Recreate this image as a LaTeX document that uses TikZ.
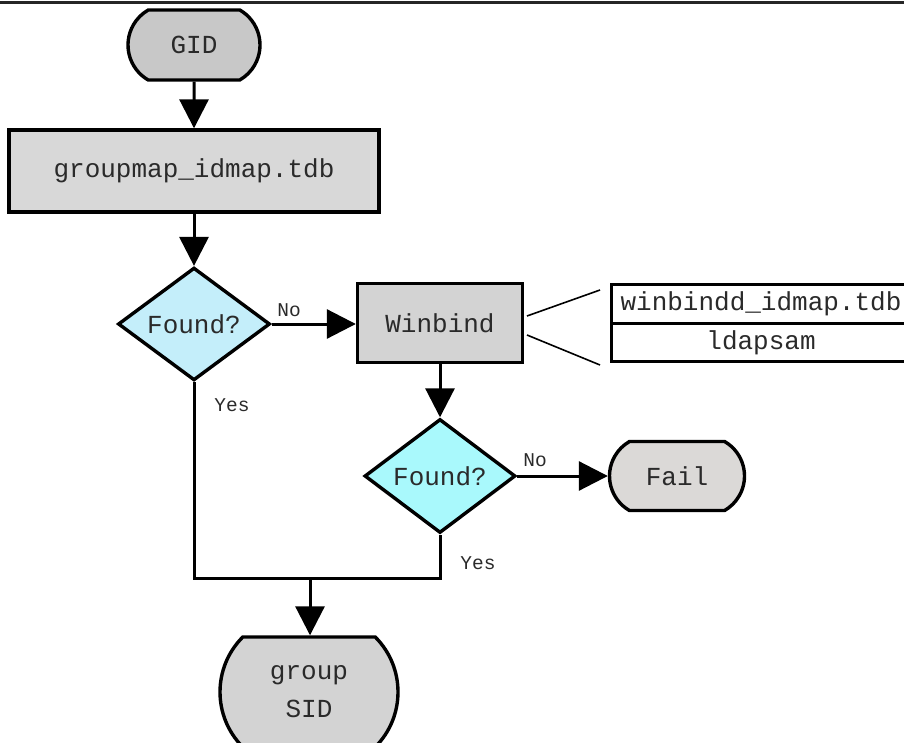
\documentclass[tikz,border=0pt]{standalone}
\usepackage{fontspec}
\setmonofont{Liberation Mono}
\usetikzlibrary{shapes.geometric,shapes.misc,arrows.meta}
\definecolor{gidfill}{HTML}{C8C8C8}
\definecolor{boxfill}{HTML}{D8D8D8}
\definecolor{winfill}{HTML}{D3D3D3}
\definecolor{dfillA}{HTML}{C4EEFA}
\definecolor{dfillB}{HTML}{A9F9FC}
\definecolor{failfill}{HTML}{DBD9D7}
\definecolor{txt}{HTML}{2A2A2A}
\tikzset{
  x=1pt, y=-1pt,
  base/.style={draw=black, line width=3.4pt, text=txt, font=\ttfamily\fontsize{26}{38}\selectfont, inner sep=0pt},
  term/.style={base, rounded rectangle, rounded rectangle arc length=120},
  procbox/.style={base, rectangle},
  decision/.style={base, diamond},
  conn/.style={line width=3pt, -{Triangle[width=29pt,length=29pt]}},
  plain/.style={line width=3pt},
  lbl/.style={font=\ttfamily\fontsize{19.5}{20}\selectfont, text=txt, inner sep=0pt},
  cell/.style={draw=black, line width=3pt, rectangle, minimum width=300pt, minimum height=38.5pt, inner sep=0pt, text=txt, font=\ttfamily\fontsize{26}{30}\selectfont},
}
\begin{document}
\begin{tikzpicture}
\useasboundingbox (0,0) rectangle (904,743);
\draw[line width=3pt, draw=black!85] (0,2.5) -- (904,2.5);

\node[term, fill=gidfill, minimum width=132pt, minimum height=70pt] (gid) at (194,45) {GID};
\node[procbox, fill=boxfill, minimum width=370pt, minimum height=82pt] (gm) at (194,171) {groupmap\_idmap.tdb};
\node[decision, fill=dfillA, minimum width=152pt, minimum height=112pt] (d1) at (194,324) {Found?};
\node[procbox, fill=winfill, minimum width=165pt, minimum height=79pt] (wb) at (440,323) {Winbind};
\node[decision, fill=dfillB, minimum width=151pt, minimum height=114pt] (d2) at (440,476) {Found?};
\node[term, fill=failfill, minimum width=135pt, minimum height=69pt] (fail) at (677,476) {Fail};
\node[term, fill=winfill, minimum width=178pt, minimum height=110pt, rounded rectangle arc length=90, align=center] (sid) at (309,692) {group\\SID};

\node[cell] (c1) at (761,304) {winbindd\_idmap.tdb};
\node[cell] (c2) at (761,342.5) {ldapsam};

\coordinate (wa) at (527,316);
\coordinate (wb2) at (527,335);
\coordinate (ta) at (600,290);
\coordinate (tb) at (600,365);
\draw[line width=1.6pt] (wa) -- (ta);
\draw[line width=1.6pt] (wb2) -- (tb);

\draw[conn] (gid) -- (gm);
\draw[conn] (gm) -- (d1);
\draw[conn] (d1.east) -- (d1.east -| wb.west);
\draw[conn] (wb) -- (d2);
\draw[conn] (d2.east) -- (d2.east -| fail.west);

\coordinate (m) at (310,578);
\draw[plain] (d1.south) |- (m) -| (d2.south);
\draw[conn] (m) -- (m |- sid.north);

\node[lbl] (no1) at (289,310) {No};
\node[lbl] (no2) at (535,460) {No};
\node[lbl] (yes1) at (232,405) {Yes};
\node[lbl] (yes2) at (478,563) {Yes};
\end{tikzpicture}
\end{document}
